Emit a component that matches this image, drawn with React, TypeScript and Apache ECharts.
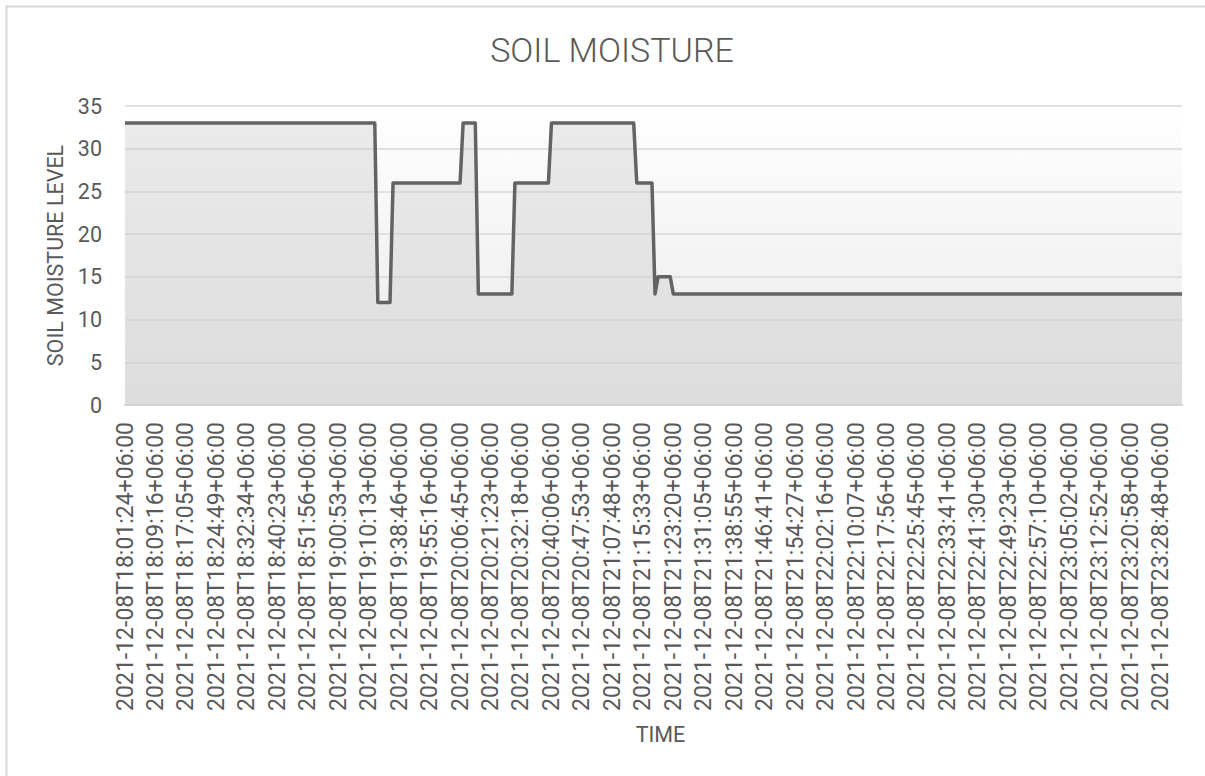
import { useEffect, useRef } from "react";
import * as echarts from "echarts";

// Category labels shown on the time axis (one every SAMPLES_PER_LABEL readings)
const timeLabels = [
  "2021-12-08T18:01:24+06:00",
  "2021-12-08T18:09:16+06:00",
  "2021-12-08T18:17:05+06:00",
  "2021-12-08T18:24:49+06:00",
  "2021-12-08T18:32:34+06:00",
  "2021-12-08T18:40:23+06:00",
  "2021-12-08T18:51:56+06:00",
  "2021-12-08T19:00:53+06:00",
  "2021-12-08T19:10:13+06:00",
  "2021-12-08T19:38:46+06:00",
  "2021-12-08T19:55:16+06:00",
  "2021-12-08T20:06:45+06:00",
  "2021-12-08T20:21:23+06:00",
  "2021-12-08T20:32:18+06:00",
  "2021-12-08T20:40:06+06:00",
  "2021-12-08T20:47:53+06:00",
  "2021-12-08T21:07:48+06:00",
  "2021-12-08T21:15:33+06:00",
  "2021-12-08T21:23:20+06:00",
  "2021-12-08T21:31:05+06:00",
  "2021-12-08T21:38:55+06:00",
  "2021-12-08T21:46:41+06:00",
  "2021-12-08T21:54:27+06:00",
  "2021-12-08T22:02:16+06:00",
  "2021-12-08T22:10:07+06:00",
  "2021-12-08T22:17:56+06:00",
  "2021-12-08T22:25:45+06:00",
  "2021-12-08T22:33:41+06:00",
  "2021-12-08T22:41:30+06:00",
  "2021-12-08T22:49:23+06:00",
  "2021-12-08T22:57:10+06:00",
  "2021-12-08T23:05:02+06:00",
  "2021-12-08T23:12:52+06:00",
  "2021-12-08T23:20:58+06:00",
  "2021-12-08T23:28:48+06:00",
];

const SAMPLES_PER_LABEL = 10;
const LAST_SAMPLE = 347;

// Reading index where the moisture level changes, and the level at that reading
const sampleIndex = [0, 82, 83, 87, 88, 110, 111, 115, 116, 127, 128, 139, 140, 167, 168, 173, 174, 175, 179, 180, 347];
const moisture = [33, 33, 12, 12, 26, 26, 33, 33, 13, 13, 26, 26, 33, 33, 26, 26, 13, 15, 15, 13, 13];

const yMin = 0;
const yMax = 35;
const yStep = 5;

const TEXT = "#595959";
const FONT = "Roboto";

export default function App() {
  const ref = useRef<HTMLDivElement>(null);

  useEffect(() => {
    if (!ref.current) return;
    const chart = echarts.init(ref.current, null, { renderer: "svg" });
    chart.setOption({
      animation: false,
      backgroundColor: "#ffffff",
      title: {
        text: "SOIL MOISTURE",
        left: 607,
        top: 28,
        textAlign: "center",
        textStyle: { fontFamily: FONT, fontSize: 34, fontWeight: 300, color: TEXT },
      },
      graphic: [
        {
          type: "line",
          silent: true,
          z: 100,
          shape: { x1: 6.5, y1: 5.5, x2: 6.5, y2: 800 },
          style: { stroke: "#d9d9d9", lineWidth: 2 },
        },
        {
          type: "line",
          silent: true,
          z: 100,
          shape: { x1: 5.5, y1: 6.5, x2: 1220, y2: 6.5 },
          style: { stroke: "#d9d9d9", lineWidth: 2 },
        },
      ],
      grid: {
        left: 125,
        right: 23,
        top: 106,
        bottom: 371,
        show: true,
        borderWidth: 0,
        backgroundColor: new echarts.graphic.LinearGradient(0, 0, 0, 1, [
          { offset: 0, color: "#ffffff" },
          { offset: 1, color: "#e8e8e8" },
        ]),
      },
      xAxis: {
        type: "value",
        min: 0,
        max: LAST_SAMPLE,
        interval: SAMPLES_PER_LABEL,
        name: "TIME",
        nameLocation: "middle",
        nameGap: 318,
        nameTextStyle: { fontFamily: FONT, fontSize: 21.5, color: TEXT, padding: [0, 0, 0, 14] },
        axisLine: { show: true, lineStyle: { color: "#d4d4d4", width: 2 } },
        axisTick: { show: false },
        splitLine: { show: false },
        axisLabel: {
          rotate: 90,
          margin: 17,
          fontFamily: FONT,
          fontSize: 23,
          color: TEXT,
          showMaxLabel: false,
          formatter: (v: number) =>
            v % SAMPLES_PER_LABEL === 0 ? timeLabels[v / SAMPLES_PER_LABEL] ?? "" : "",
        },
      },
      yAxis: {
        type: "value",
        min: yMin,
        max: yMax,
        interval: yStep,
        name: "SOIL MOISTURE LEVEL",
        nameLocation: "middle",
        nameGap: 56,
        nameTextStyle: { fontFamily: FONT, fontSize: 21.5, color: TEXT },
        axisLine: { show: false },
        axisTick: { show: false },
        axisLabel: { margin: 23, fontFamily: FONT, fontSize: 21.5, color: TEXT },
        splitLine: { show: true, lineStyle: { color: "#d9d9d9", width: 1.5 } },
      },
      series: [
        {
          type: "line",
          data: sampleIndex.map((s, i) => [s, moisture[i]]),
          symbol: "none",
          lineStyle: { color: "#636363", width: 3.5, join: "round" },
          areaStyle: { color: "rgba(203,203,203,0.55)" },
        },
      ],
    });
    return () => chart.dispose();
  }, []);

  return (
    <div
      ref={ref}
      style={{ position: "fixed", left: 0, top: 0, width: 1205, height: 776 }}
    />
  );
}
